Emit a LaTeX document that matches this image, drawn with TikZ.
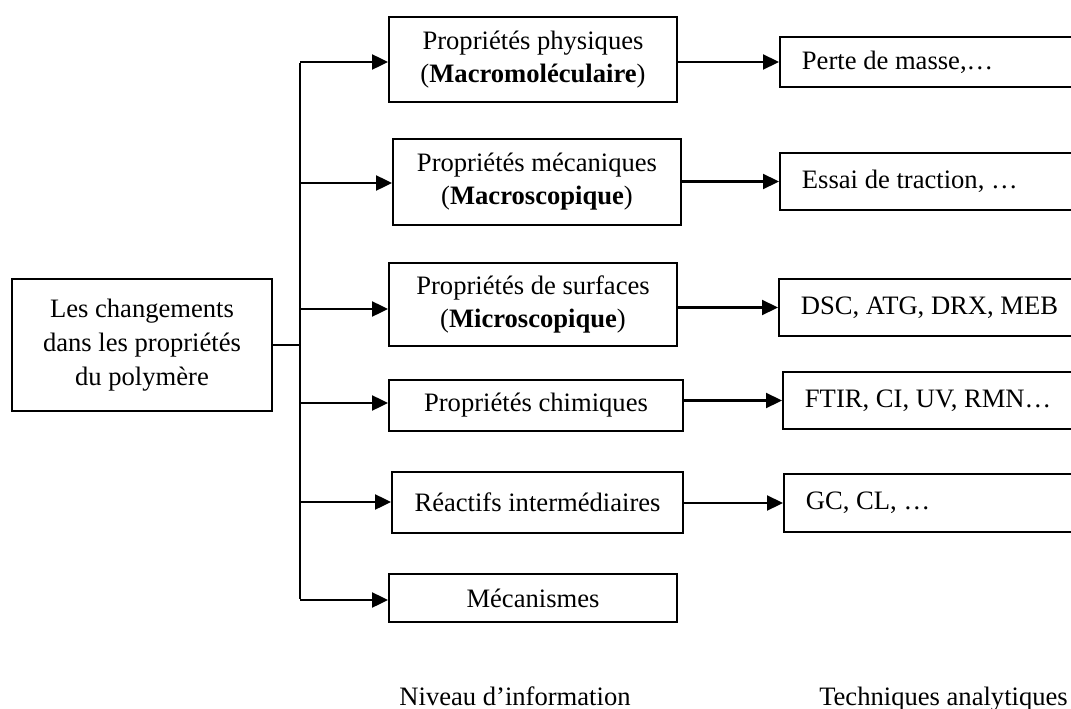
\documentclass[tikz,border=0pt]{standalone}
\usepackage{fontspec}
\setmainfont{Liberation Serif}
\usetikzlibrary{arrows.meta}
\begin{document}
\begin{tikzpicture}[x=1pt,y=-1pt,
  txt/.style={font=\fontsize{26.6}{33}\selectfont},
  box/.style={txt,draw,line width=1.9pt,inner sep=0pt,align=center},
  rbox/.style={txt,draw,line width=1.9pt,anchor=west,inner xsep=22pt,inner ysep=0pt,
               text width=268pt,align=flush left},
  conn/.style={line width=2.2pt},
  arr/.style={line width=2.2pt,-{Triangle[length=16pt,width=15pt]}}]
\useasboundingbox (0,0) rectangle (1071,709);
\clip (0,0) rectangle (1071,709);
% left box
\node[box,minimum width=260pt,minimum height=132pt,font=\fontsize{26.6}{34}\selectfont] (L) at (142,345)
  {Les changements\\dans les propriétés\\du polymère};
% middle boxes
\node[box,minimum width=288pt,minimum height=85pt] (P1) at (533,59.5)
  {Propriétés physiques\\(\textbf{Macromoléculaire})};
\node[box,minimum width=288pt,minimum height=86pt] (P2) at (537,182)
  {Propriétés mécaniques\\(\textbf{Macroscopique})};
\node[box,minimum width=288pt,minimum height=83pt] (P3) at (533,304.5)
  {Propriétés de surfaces\\(\textbf{Microscopique})};
\node[box,minimum width=294pt,minimum height=51pt] (P4) at (536,405.5)
  {Propriétés chimiques};
\node[box,minimum width=291pt,minimum height=61pt] (P5) at (537.5,502.5)
  {Réactifs intermédiaires};
\node[box,minimum width=288pt,minimum height=48pt] (P6) at (533,598)
  {Mécanismes};
% right boxes
\node[rbox,minimum height=50pt] (R1) at (779,62) {Perte de masse,…};
\node[rbox,minimum height=57pt] (R2) at (779,181.5) {Essai de traction, …};
\node[rbox,minimum height=57pt] (R3) at (778,307.5) {DSC, ATG, DRX, MEB};
\node[rbox,minimum height=57pt] (R4) at (782,400.5) {FTIR, CI, UV, RMN…};
\node[rbox,minimum height=58pt] (R5) at (783,503) {GC, CL, …};
% trunk
\coordinate (t1) at (300,62);
\coordinate (t2) at (300,183);
\coordinate (t3) at (300,309);
\coordinate (t4) at (300,403);
\coordinate (t5) at (300,502);
\coordinate (t6) at (300,600);
\draw[conn] (L.east) -- (L.east -| t1);
\draw[conn] ([yshift=-1pt]t1) -- ([yshift=1pt]t6);
\draw[arr] (t1) -- (t1 -| P1.west);
\draw[arr] (t2) -- (t2 -| P2.west);
\draw[arr] (t3) -- (t3 -| P3.west);
\draw[arr] (t4) -- (t4 -| P4.west);
\draw[arr] (t5) -- (t5 -| P5.west);
\draw[arr] (t6) -- (t6 -| P6.west);
% to techniques
\draw[arr] (P1.east |- R1.west) -- (R1.west);
\draw[arr] (P2.east |- R2.west) -- (R2.west);
\draw[arr] (P3.east |- R3.west) -- (R3.west);
\draw[arr] (P4.east |- R4.west) -- (R4.west);
\draw[arr] (P5.east |- R5.west) -- (R5.west);
% bottom labels
\node[txt,anchor=base,inner sep=0pt] (N1) at (515,705) {Niveau d’information};
\node[txt,anchor=base east,inner sep=0pt] (N2) at (1068,705) {Techniques analytiques};
\end{tikzpicture}
\end{document}
